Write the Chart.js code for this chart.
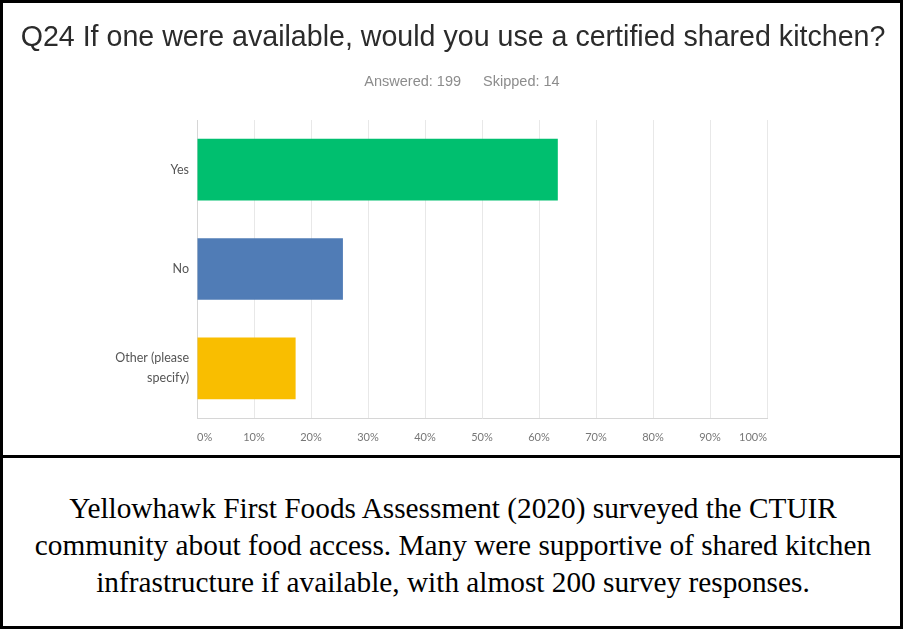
<!DOCTYPE html>
<html>
<head>
<meta charset="utf-8">
<script src="https://cdn.jsdelivr.net/npm/chart.js@4.4.0/dist/chart.umd.min.js"></script>
<style>
  html, body { margin: 0; padding: 0; background: #fff; }
  #wrap { position: relative; width: 903px; height: 629px; overflow: hidden; }
  #frame { position: absolute; left: 0; top: 0; width: 903px; height: 629px; box-sizing: border-box; border: 3px solid #000; pointer-events: none; }
  #split { position: absolute; left: 0; top: 455px; width: 903px; height: 3px; background: #000; }
  #title { position: absolute; left: 0; top: 20px; width: 906px; text-align: center; font: 28.6px "Liberation Sans", Arial, sans-serif; line-height: 32px; color: #2b2b2b; }
  #sub { position: absolute; left: 0; top: 72px; width: 924px; text-align: center; font: 14.5px "Liberation Sans", Arial, sans-serif; line-height: 18px; color: #8c8c8c; }
  #sub span + span { margin-left: 22px; }
  #chart { position: absolute; left: 0; top: 0; }
  #caption { position: absolute; left: 0; top: 490px; width: 906px; text-align: center; font: 29.3px "Liberation Serif", "Times New Roman", serif; line-height: 37px; color: #000; }
</style>
</head>
<body>
<div id="wrap">
  <canvas id="chart" width="903" height="455"></canvas>
  <div id="title">Q24 If one were available, would you use a certified shared kitchen?</div>
  <div id="sub"><span>Answered: 199</span><span>Skipped: 14</span></div>
  <div id="split"></div>
  <div id="caption">Yellowhawk First Foods Assessment (2020) surveyed the CTUIR<br>community about food access. Many were supportive of shared kitchen<br>infrastructure if available, with almost 200 survey responses.</div>
  <div id="frame"></div>
</div>
<script>
// answer choices and share of respondents (%)
const categories = ["Yes", "No", ["Other (please", "specify)"]];
const percentages = [63.3, 25.6, 17.3];
const barColors = ["#00bf6f", "#507cb6", "#f9be00"];

new Chart("chart", {
  type: "bar",
  data: {
    labels: categories,
    datasets: [
      {
        data: percentages,
        backgroundColor: barColors,
        borderWidth: 0,
        categoryPercentage: 1,
        barPercentage: 0.62,
      },
    ],
  },
  options: {
    indexAxis: "y",
    responsive: false,
    animation: false,
    layout: { padding: { top: 120, right: 136, left: 0, bottom: 0 } },
    plugins: { legend: { display: false }, tooltip: { enabled: false } },
    scales: {
      x: {
        min: 0,
        max: 100,
        ticks: {
          stepSize: 10,
          align: "inner",
          padding: 13,
          color: "#777",
          font: { family: "Lato", size: 11 },
          callback: (v) => v + "%",
        },
        grid: { color: "#e8e8e8", drawTicks: false },
        border: { color: "#d6d6d6" },
        afterFit: (scale) => { scale.height = 37; },
      },
      y: {
        ticks: {
          padding: 8,
          color: "#555",
          font: { family: "Lato", size: 12.5, lineHeight: 1.6 },
        },
        grid: { display: false, drawTicks: false },
        border: { color: "#d6d6d6" },
        afterFit: (scale) => { scale.width = 197; },
      },
    },
  },
});
</script>
</body>
</html>
